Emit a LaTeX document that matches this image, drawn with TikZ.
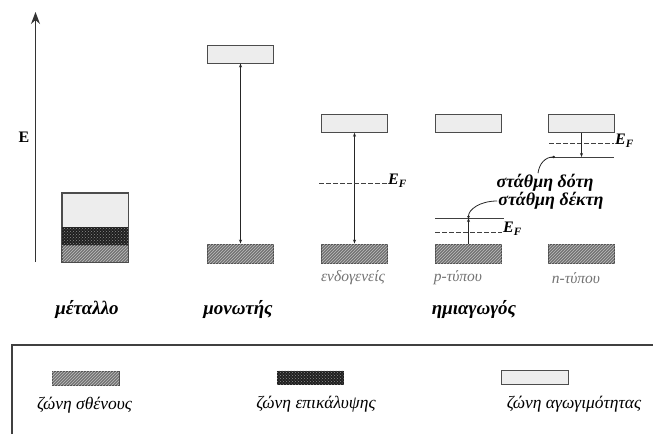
\documentclass[tikz,border=0pt]{standalone}
\usepackage{fontspec}
\setmainfont{Liberation Serif}
\usetikzlibrary{arrows.meta, patterns}

\begin{document}
\begin{tikzpicture}[x=1pt, y=-1pt,
  cband/.style={draw=black!70, line width=0.9pt, fill=black!7, minimum width=66pt, minimum height=17.5pt, inner sep=0pt},
  vband/.style={draw=black!70, line width=0.9pt, fill=black!55, minimum width=66pt, minimum height=19pt, inner sep=0pt, postaction={pattern=north east lines, pattern color=black!25}},
  oband/.style={fill=black!88, minimum width=66pt, minimum height=18pt, inner sep=0pt, postaction={pattern=crosshatch dots, pattern color=black!45}},
  swatch/.style={minimum width=67pt, minimum height=14pt},
  arr/.style={{Stealth[length=4pt,width=3pt]}-{Stealth[length=4pt,width=3pt]}, line width=0.6pt, black!85},
  onearr/.style={-{Stealth[length=4pt,width=3pt]}, line width=0.6pt, black!85},
  ptr/.style={-{Circle[length=2.5pt]}, line width=0.8pt, black!85},
  efline/.style={dashed, dash pattern=on 4.5pt off 2.5pt, line width=0.9pt, black!75},
  lvl/.style={line width=1pt, black!75},
  ef/.style={anchor=west, inner sep=1pt, font=\fontsize{16}{18}\selectfont\bfseries\itshape},
  matname/.style={font=\fontsize{19}{22}\selectfont\bfseries\itshape},
  kind/.style={font=\fontsize{15.5}{18}\selectfont\itshape, text=black!55},
  lbl/.style={font=\fontsize{18}{20}\selectfont\bfseries\itshape, inner sep=1pt},
  leg/.style={font=\fontsize{17.5}{20}\selectfont\itshape}
]
\useasboundingbox (0,0) rectangle (653,434);

% energy axis
\coordinate (axbot) at (35.5,262);
\coordinate (axtop) at (35.5,12);
\draw[-{Stealth[length=12pt,width=9pt]}, line width=1.3pt, black!80] (axbot) -- (axtop);
\node[font=\fontsize{16}{18}\selectfont\bfseries] (elbl) at (24,137) {E};

% metal
\node[cband, minimum height=34pt] (metC) at (95,210) {};
\node[oband] (metO) at (95,236) {};
\node[vband, minimum height=17pt] (metV) at (95,253.5) {};
\draw[black!70, line width=0.9pt] (metC.north west) rectangle (metV.south east);

% insulator
\node[cband, minimum height=18pt] (insC) at (240.5,54) {};
\node[vband] (insV) at (240.5,253.5) {};
\draw[arr] (insC.south) -- (insV.north);

% intrinsic
\node[cband] (intC) at (354.5,123.5) {};
\node[vband] (intV) at (354.5,253.5) {};
\draw[arr] (intC.south) -- (intV.north);
\coordinate (efIa) at (319,183);
\coordinate (efIb) at (387,183);
\draw[efline] (efIa) -- (efIb);
\node[ef, yshift=2pt] (efI) at (efIb) {E\textsubscript{F}};

% p-type
\node[cband] (pC) at (468.5,123.5) {};
\node[vband] (pV) at (468.5,253.5) {};
\coordinate (accA) at (435,218);
\coordinate (accB) at (504,218);
\coordinate (accDot) at (468.5,218);
\draw[lvl] (accA) -- (accB);
\coordinate (efPa) at (435,232);
\coordinate (efPb) at (502,232);
\draw[efline] (efPa) -- (efPb);
\node[ef, yshift=3pt] (efP) at (efPb) {E\textsubscript{F}};
\draw[onearr] (pV.north) -- (accDot);

% n-type
\node[cband] (nC) at (581.5,123.5) {};
\node[vband] (nV) at (581.5,253.5) {};
\coordinate (donA) at (549,157);
\coordinate (donB) at (614,157);
\coordinate (donDot) at (555,157);
\draw[lvl] (donA) -- (donB);
\coordinate (efNa) at (549,143);
\coordinate (efNb) at (614,143);
\draw[efline] (efNa) -- (efNb);
\node[ef, yshift=2pt] (efN) at (efNb) {E\textsubscript{F}};
\draw[onearr] (nC.south) -- (nC.south |- donDot);

% level labels
\node[lbl] (donLbl) at (545,183) {στάθμη δότη};
\node[lbl] (accLbl) at (551,201) {στάθμη δέκτη};
\draw[ptr] ([xshift=-7pt]donLbl.north) .. controls +(1,-9) and +(-10,0) .. (donDot);
\draw[ptr] (accLbl.west) .. controls +(-18,0) and +(0,-8) .. (accDot);

% names
\node[kind] (intName) at (353,278) {ενδογενείς};
\node[kind] (pName) at (458,278) {p-τύπου};
\node[kind] (nName) at (576,278) {n-τύπου};
\node[matname] (metName) at (87,310) {μέταλλο};
\node[matname] (insName) at (238,310) {μονωτής};
\node[matname] (semName) at (474,310) {ημιαγωγός};

% legend
\draw[black!75, line width=1.3pt] (12,434) -- (12,345) -- (653,345);
\node[vband, swatch] (legV) at (85.5,378) {};
\node[oband, swatch] (legO) at (310,377.5) {};
\node[cband, swatch] (legC) at (534.5,377.5) {};
\node[leg] (legVt) at (84.5,405) {ζώνη σθένους};
\node[leg] (legOt) at (316,404) {ζώνη επικάλυψης};
\node[leg] (legCt) at (574,404) {ζώνη αγωγιμότητας};
\end{tikzpicture}
\end{document}
